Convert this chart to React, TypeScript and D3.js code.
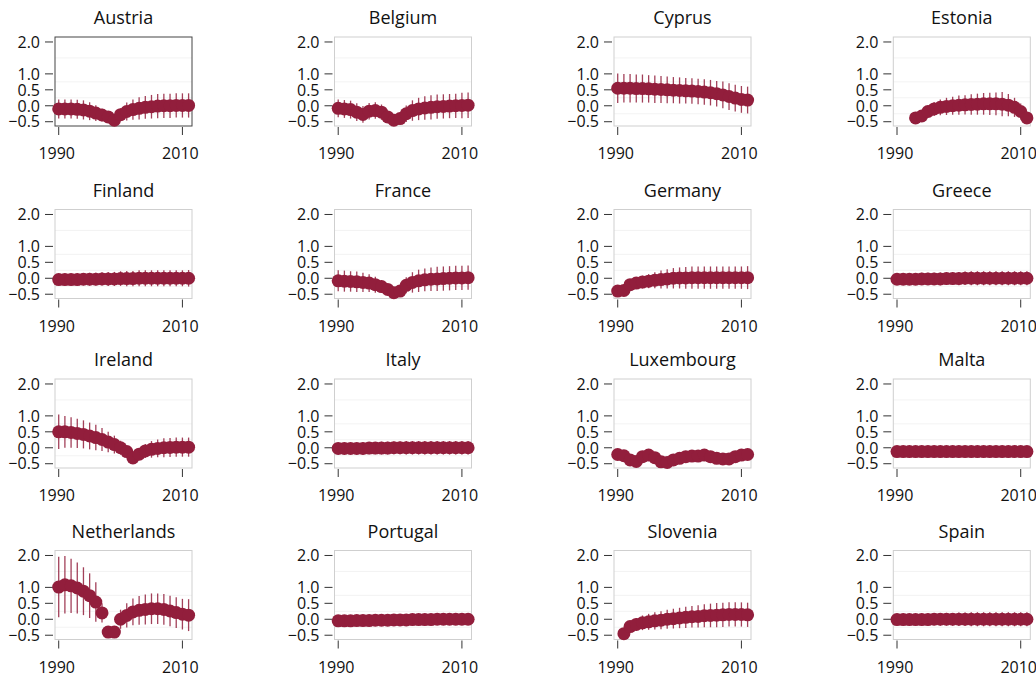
import { scaleLinear } from "d3";

const years = [
  1990, 1991, 1992, 1993, 1994, 1995, 1996, 1997, 1998, 1999, 2000,
  2001, 2002, 2003, 2004, 2005, 2006, 2007, 2008, 2009, 2010, 2011,
];

const countries = [
  "Austria", "Belgium", "Cyprus", "Estonia",
  "Finland", "France", "Germany", "Greece",
  "Ireland", "Italy", "Luxembourg", "Malta",
  "Netherlands", "Portugal", "Slovenia", "Spain",
];

type V = number | null;

const austriaMean = [-0.1, -0.1, -0.1, -0.11, -0.13, -0.17, -0.23, -0.29, -0.35, -0.45, -0.28, -0.18, -0.12, -0.08, -0.05, -0.03, -0.01, 0, 0, 0.01, 0.01, 0.01];
const austriaCi = [0.3, 0.3, 0.3, 0.3, 0.3, 0.28, 0.25, 0.2, 0.15, 0.12, 0.2, 0.28, 0.32, 0.35, 0.36, 0.37, 0.38, 0.38, 0.38, 0.38, 0.38, 0.38];

const belgiumMean = [-0.08, -0.1, -0.12, -0.2, -0.27, -0.17, -0.15, -0.2, -0.35, -0.45, -0.4, -0.25, -0.15, -0.1, -0.07, -0.05, -0.03, -0.02, -0.01, 0, 0.01, 0.02];
const belgiumCi = [0.28, 0.28, 0.28, 0.28, 0.26, 0.26, 0.26, 0.24, 0.18, 0.12, 0.18, 0.26, 0.32, 0.35, 0.37, 0.38, 0.38, 0.38, 0.38, 0.38, 0.4, 0.4];

const cyprusMean = [0.55, 0.55, 0.55, 0.54, 0.54, 0.53, 0.52, 0.51, 0.5, 0.49, 0.48, 0.47, 0.46, 0.45, 0.43, 0.41, 0.38, 0.34, 0.29, 0.24, 0.2, 0.18];
const cyprusCi = [0.46, 0.45, 0.45, 0.44, 0.44, 0.43, 0.43, 0.42, 0.42, 0.41, 0.41, 0.4, 0.4, 0.4, 0.4, 0.4, 0.4, 0.42, 0.42, 0.42, 0.42, 0.42];

const estoniaMean: V[] = [null, null, null, -0.38, -0.32, -0.18, -0.1, -0.05, -0.02, 0, 0.02, 0.03, 0.04, 0.05, 0.06, 0.06, 0.06, 0.05, 0.02, -0.05, -0.18, -0.38];
const estoniaCi: V[] = [null, null, null, 0.1, 0.12, 0.18, 0.22, 0.25, 0.27, 0.28, 0.3, 0.3, 0.32, 0.33, 0.34, 0.35, 0.36, 0.38, 0.35, 0.3, 0.25, 0.15];

const finlandMean = [-0.04, -0.04, -0.04, -0.04, -0.03, -0.03, -0.03, -0.02, -0.02, -0.02, -0.01, -0.01, -0.01, 0, 0, 0, 0, 0, 0, 0, 0, 0];
const finlandCi = [0.18, 0.18, 0.18, 0.19, 0.19, 0.2, 0.2, 0.21, 0.22, 0.22, 0.23, 0.24, 0.24, 0.25, 0.25, 0.25, 0.25, 0.25, 0.25, 0.25, 0.25, 0.26];

const franceMean = [-0.08, -0.09, -0.1, -0.11, -0.13, -0.15, -0.2, -0.26, -0.35, -0.45, -0.4, -0.22, -0.13, -0.08, -0.05, -0.03, -0.02, -0.01, 0, 0.01, 0.01, 0.02];
const franceCi = [0.33, 0.33, 0.32, 0.32, 0.3, 0.28, 0.25, 0.2, 0.15, 0.1, 0.15, 0.25, 0.32, 0.35, 0.36, 0.37, 0.38, 0.38, 0.38, 0.38, 0.38, 0.38];

const germanyMean = [-0.4, -0.38, -0.2, -0.15, -0.12, -0.09, -0.06, -0.04, -0.02, 0, 0.01, 0.01, 0.02, 0.02, 0.02, 0.02, 0.02, 0.02, 0.02, 0.02, 0.02, 0.02];
const germanyCi = [0.1, 0.1, 0.15, 0.18, 0.2, 0.22, 0.25, 0.28, 0.3, 0.32, 0.33, 0.34, 0.35, 0.35, 0.35, 0.35, 0.35, 0.35, 0.35, 0.35, 0.35, 0.36];

const greeceMean = [-0.03, -0.03, -0.03, -0.03, -0.02, -0.02, -0.02, -0.02, -0.01, -0.01, -0.01, 0, 0, 0, 0, 0, 0, 0, 0, 0, 0, 0];
const greeceCi = [0.18, 0.18, 0.18, 0.18, 0.19, 0.19, 0.19, 0.2, 0.2, 0.2, 0.21, 0.21, 0.22, 0.22, 0.22, 0.22, 0.22, 0.22, 0.22, 0.22, 0.22, 0.22];

const irelandMean = [0.5, 0.5, 0.48, 0.45, 0.42, 0.37, 0.32, 0.26, 0.18, 0.1, 0.0, -0.12, -0.32, -0.2, -0.1, -0.05, -0.02, 0, 0.01, 0.02, 0.02, 0.02];
const irelandCi = [0.54, 0.5, 0.48, 0.46, 0.44, 0.42, 0.4, 0.36, 0.32, 0.28, 0.22, 0.15, 0.1, 0.15, 0.22, 0.26, 0.28, 0.3, 0.3, 0.3, 0.3, 0.3];

const italyMean = [-0.02, -0.02, -0.02, -0.02, -0.02, -0.01, -0.01, -0.01, -0.01, 0, 0, 0, 0, 0, 0, 0, 0, 0, 0, 0, 0, 0];
const italyCi = [0.18, 0.18, 0.18, 0.18, 0.19, 0.19, 0.19, 0.2, 0.2, 0.2, 0.2, 0.21, 0.21, 0.21, 0.21, 0.21, 0.21, 0.21, 0.21, 0.21, 0.21, 0.21];

const luxembourgMean = [-0.21, -0.25, -0.38, -0.43, -0.28, -0.23, -0.31, -0.44, -0.46, -0.38, -0.33, -0.28, -0.26, -0.26, -0.23, -0.28, -0.33, -0.35, -0.35, -0.28, -0.23, -0.21];
const luxembourgCi = [0.15, 0.15, 0.15, 0.15, 0.15, 0.15, 0.15, 0.15, 0.15, 0.15, 0.15, 0.15, 0.15, 0.15, 0.15, 0.15, 0.15, 0.15, 0.15, 0.15, 0.15, 0.15];

const maltaMean = [-0.12, -0.12, -0.12, -0.12, -0.12, -0.12, -0.12, -0.12, -0.12, -0.12, -0.12, -0.12, -0.12, -0.12, -0.12, -0.12, -0.12, -0.12, -0.12, -0.12, -0.12, -0.12];
const maltaCi = [0.1, 0.1, 0.1, 0.1, 0.1, 0.1, 0.1, 0.1, 0.1, 0.1, 0.1, 0.1, 0.1, 0.1, 0.1, 0.1, 0.1, 0.1, 0.1, 0.1, 0.1, 0.1];

const netherlandsMean = [1.01, 1.08, 1.05, 0.98, 0.88, 0.74, 0.54, 0.2, -0.4, -0.4, 0.0, 0.12, 0.23, 0.28, 0.31, 0.33, 0.33, 0.31, 0.26, 0.21, 0.16, 0.13];
const netherlandsCi = [0.95, 0.9, 0.85, 0.8, 0.75, 0.7, 0.62, 0.3, 0.1, 0.1, 0.3, 0.38, 0.42, 0.45, 0.47, 0.48, 0.48, 0.48, 0.48, 0.48, 0.48, 0.5];

const portugalMean = [-0.05, -0.05, -0.05, -0.04, -0.04, -0.04, -0.03, -0.03, -0.03, -0.02, -0.02, -0.02, -0.01, -0.01, -0.01, -0.01, 0, 0, 0, 0, 0, 0];
const portugalCi = [0.15, 0.15, 0.15, 0.15, 0.15, 0.16, 0.16, 0.16, 0.17, 0.17, 0.17, 0.18, 0.18, 0.18, 0.18, 0.18, 0.18, 0.18, 0.18, 0.18, 0.18, 0.18];

const sloveniaMean: V[] = [null, -0.45, -0.23, -0.16, -0.11, -0.08, -0.05, -0.03, 0, 0.02, 0.04, 0.06, 0.08, 0.09, 0.11, 0.12, 0.13, 0.14, 0.15, 0.15, 0.15, 0.14];
const sloveniaCi: V[] = [null, 0.1, 0.15, 0.2, 0.23, 0.25, 0.27, 0.28, 0.3, 0.31, 0.32, 0.33, 0.34, 0.35, 0.36, 0.37, 0.38, 0.38, 0.38, 0.38, 0.38, 0.38];

const spainMean = [-0.01, -0.01, -0.01, -0.01, -0.01, -0.01, 0, 0, 0, 0, 0, 0, 0, 0, 0, 0, 0, 0, 0, 0, 0, 0];
const spainCi = [0.18, 0.18, 0.18, 0.18, 0.19, 0.19, 0.19, 0.2, 0.2, 0.2, 0.21, 0.21, 0.22, 0.22, 0.22, 0.22, 0.22, 0.22, 0.22, 0.22, 0.22, 0.22];

const means: V[][] = [
  austriaMean, belgiumMean, cyprusMean, estoniaMean,
  finlandMean, franceMean, germanyMean, greeceMean,
  irelandMean, italyMean, luxembourgMean, maltaMean,
  netherlandsMean, portugalMean, sloveniaMean, spainMean,
];
const cis: V[][] = [
  austriaCi, belgiumCi, cyprusCi, estoniaCi,
  finlandCi, franceCi, germanyCi, greeceCi,
  irelandCi, italyCi, luxembourgCi, maltaCi,
  netherlandsCi, portugalCi, sloveniaCi, spainCi,
];

const yTicks = [-0.5, 0, 0.5, 1, 2];
const yGrid = [-0.25, 0.25, 0.75, 1.5];
const xTicks = [1990, 2010];

const W = 1036;
const H = 677;
const panelW = 137;
const panelH = 89;
const colLeft = [55, 334.5, 614, 893.3];
const rowTop = [37, 209.5, 379, 550.5];
const color = "#921e3c";
const font = "'Open Sans', 'Noto Sans', sans-serif";

const fmt = (v: number) => (v < 0 ? "\u2212" : "") + Math.abs(v).toFixed(1);

function Panel({ idx }: { idx: number }) {
  const left = colLeft[idx % 4];
  const top = rowTop[Math.floor(idx / 4)];
  const x = scaleLinear([1989.4, 2011.55], [0, panelW]);
  const y = scaleLinear([-0.634, 2.156], [panelH, 0]);
  const m = means[idx];
  const c = cis[idx];
  const pts = years
    .map((yr, i) => ({ yr, v: m[i], ci: c[i] }))
    .filter((d) => d.v != null) as { yr: number; v: number; ci: number }[];

  return (
    <g transform={`translate(${left},${top})`}>
      <text
        x={panelW / 2}
        y={-13}
        textAnchor="middle"
        fontSize={18}
        fill="#111"
      >
        {countries[idx]}
      </text>
      {yGrid.map((g) => (
        <line key={g} x1={0} x2={panelW} y1={y(g)} y2={y(g)} stroke="#f3f3f3" />
      ))}
      <rect
        x={0}
        y={0}
        width={panelW}
        height={panelH}
        fill="none"
        stroke={idx === 0 ? "#444" : "#cfcfcf"}
        strokeWidth={1}
      />
      {yTicks.map((t) => (
        <g key={t}>
          <line x1={-10} x2={-2} y1={y(t)} y2={y(t)} stroke="#333" />
          <text x={-15} y={y(t)} dy="0.36em" textAnchor="end" fontSize={16} fill="#111">
            {fmt(t)}
          </text>
        </g>
      ))}
      {xTicks.map((t) => (
        <g key={t}>
          <line x1={x(t)} x2={x(t)} y1={panelH + 1} y2={panelH + 9} stroke="#333" />
          <text x={x(t) - 2} y={panelH + 33} textAnchor="middle" fontSize={16} fill="#111">
            {t}
          </text>
        </g>
      ))}
      {pts.map((d) => (
        <line
          key={"e" + d.yr}
          x1={x(d.yr)}
          x2={x(d.yr)}
          y1={y(d.v - d.ci)}
          y2={y(d.v + d.ci)}
          stroke={color}
          strokeWidth={1.3}
          strokeOpacity={0.85}
        />
      ))}
      {pts.map((d) => (
        <circle key={"c" + d.yr} cx={x(d.yr)} cy={y(d.v)} r={6.5} fill={color} />
      ))}
    </g>
  );
}

export default function App() {
  return (
    <svg
      width={W}
      height={H}
      style={{ position: "absolute", left: 0, top: 0, background: "#fff" }}
      fontFamily={font}
    >
      <rect width={W} height={H} fill="#fff" />
      {countries.map((_, i) => (
        <Panel key={i} idx={i} />
      ))}
    </svg>
  );
}
